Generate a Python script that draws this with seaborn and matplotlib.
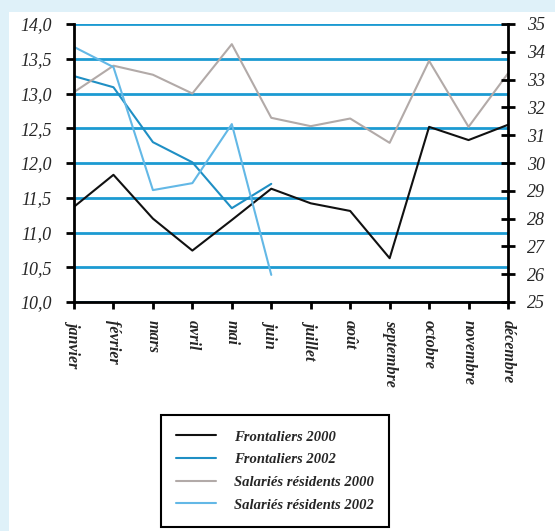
import numpy as np
import pandas as pd
import matplotlib
matplotlib.use("Agg")
import matplotlib.pyplot as plt
import seaborn as sns
from matplotlib.lines import Line2D
from matplotlib.patches import Rectangle

# Monthly series (left scale), 2002 only known through June
months = ["janvier", "février", "mars", "avril", "mai", "juin", "juillet",
          "août", "septembre", "octobre", "novembre", "décembre"]
frontaliers_2000 = [11.37, 11.83, 11.20, 10.74, 11.18, 11.63, 11.42, 11.31,
                    10.63, 12.52, 12.33, 12.55]
frontaliers_2002 = [13.25, 13.09, 12.30, 12.01, 11.35, 11.70]
residents_2000 = [13.02, 13.40, 13.27, 13.00, 13.71, 12.65, 12.53, 12.64,
                  12.29, 13.47, 12.52, 13.29]
residents_2002 = [13.67, 13.38, 11.61, 11.71, 12.56, 10.39]

series_names = ["Frontaliers 2000", "Frontaliers 2002",
                "Salariés résidents 2000", "Salariés résidents 2002"]
series_values = [frontaliers_2000, frontaliers_2002, residents_2000, residents_2002]
colors = ["#111111", "#1f8fc4", "#b2aaa8", "#63b8e6"]

left_ticks = [10.0, 10.5, 11.0, 11.5, 12.0, 12.5, 13.0, 13.5, 14.0]
left_labels = ["10,0", "10,5", "11,0", "11,5", "12,0", "12,5", "13,0", "13,5", "14,0"]
right_ticks = [25, 26, 27, 28, 29, 30, 31, 32, 33, 34, 35]

rows = []
for name, vals in zip(series_names, series_values):
    for i, v in enumerate(vals):
        rows.append({"mois": i, "valeur": v, "serie": name})
df = pd.DataFrame(rows)

sns.set_style("white")
plt.rcParams["font.family"] = ["Liberation Serif", "DejaVu Serif"]

fig = plt.figure(figsize=(5.55, 5.31), dpi=100)
fig.patch.set_facecolor("#dff1f9")
fig.patches.append(Rectangle((9 / 555, 0), 1, 1 - 12 / 531, transform=fig.transFigure,
                             facecolor="white", edgecolor="none", zorder=-5))

ax = fig.add_axes([74 / 555, 1 - 302 / 531, (508 - 74) / 555, (302 - 24) / 531])
ax.set_facecolor("white")

sns.lineplot(data=df, x="mois", y="valeur", hue="serie", hue_order=series_names,
             palette=dict(zip(series_names, colors)), linewidth=1.5,
             estimator=None, sort=False, legend=False, ax=ax)

ax.set_xlim(0, 11)
ax.set_ylim(10, 14)
ax.set_yticks(left_ticks)
ax.set_yticklabels(left_labels, fontsize=13, fontstyle="italic")
ax.set_xticks(range(len(months)))
ax.set_xticklabels(months, rotation=-90, fontsize=11.5, fontstyle="italic",
                   fontweight="bold", va="top", ha="center")
ax.set_xlabel("")
ax.set_ylabel("")
ax.grid(False)
ax.yaxis.grid(True, color="#1c9ad2", linewidth=2)
ax.set_axisbelow(True)
for s in ["top", "right"]:
    ax.spines[s].set_visible(False)
for s in ["left", "bottom"]:
    ax.spines[s].set_color("black")
    ax.spines[s].set_linewidth(2)
ax.tick_params(axis="y", direction="out", length=6, width=2, color="black", pad=10)
ax.tick_params(axis="x", direction="out", length=5, width=2, color="black", pad=8,
               bottom=True)

ax2 = ax.twinx()
ax2.set_ylim(25, 35)
ax2.set_yticks(right_ticks)
ax2.set_yticklabels([str(t) for t in right_ticks], fontsize=13, fontstyle="italic")
for s in ["top", "left", "bottom"]:
    ax2.spines[s].set_visible(False)
ax2.spines["right"].set_color("black")
ax2.spines["right"].set_linewidth(2)
ax2.tick_params(axis="y", direction="inout", length=10, width=2, color="black", pad=9)
ax2.grid(False)

handles = [Line2D([], [], color=c, linewidth=1.5) for c in colors]
leg = fig.legend(handles, series_names, loc="upper center",
                 bbox_to_anchor=(275 / 555, 1 - 415 / 531), frameon=True,
                 fancybox=False, edgecolor="black", framealpha=1,
                 prop={"size": 10.5, "style": "italic", "weight": "bold"},
                 handlelength=2.75, handletextpad=1.2, labelspacing=0.65,
                 borderpad=1.05, borderaxespad=0)
leg.get_frame().set_linewidth(1.5)

fig.savefig("out.png", dpi=100, facecolor=fig.get_facecolor())
